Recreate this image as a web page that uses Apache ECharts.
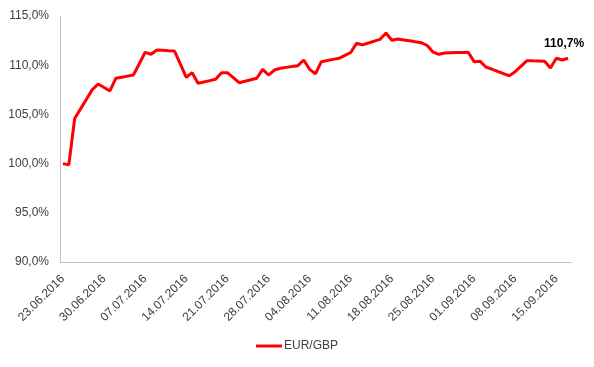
<!DOCTYPE html>
<html>
<head>
<meta charset="utf-8">
<script src="https://cdn.jsdelivr.net/npm/echarts@6/dist/echarts.min.js"></script>
<style>
html,body{margin:0;padding:0;background:#fff;}
#chart{width:594px;height:367px;}
</style>
</head>
<body>
<div id="chart"></div>
<script>
// Calendar days, 23.06.2016 - 17.09.2016
var dates = [
 '23.06.2016','24.06.2016','25.06.2016','26.06.2016','27.06.2016','28.06.2016','29.06.2016',
 '30.06.2016','01.07.2016','02.07.2016','03.07.2016','04.07.2016','05.07.2016','06.07.2016',
 '07.07.2016','08.07.2016','09.07.2016','10.07.2016','11.07.2016','12.07.2016','13.07.2016',
 '14.07.2016','15.07.2016','16.07.2016','17.07.2016','18.07.2016','19.07.2016','20.07.2016',
 '21.07.2016','22.07.2016','23.07.2016','24.07.2016','25.07.2016','26.07.2016','27.07.2016',
 '28.07.2016','29.07.2016','30.07.2016','31.07.2016','01.08.2016','02.08.2016','03.08.2016',
 '04.08.2016','05.08.2016','06.08.2016','07.08.2016','08.08.2016','09.08.2016','10.08.2016',
 '11.08.2016','12.08.2016','13.08.2016','14.08.2016','15.08.2016','16.08.2016','17.08.2016',
 '18.08.2016','19.08.2016','20.08.2016','21.08.2016','22.08.2016','23.08.2016','24.08.2016',
 '25.08.2016','26.08.2016','27.08.2016','28.08.2016','29.08.2016','30.08.2016','31.08.2016',
 '01.09.2016','02.09.2016','03.09.2016','04.09.2016','05.09.2016','06.09.2016','07.09.2016',
 '08.09.2016','09.09.2016','10.09.2016','11.09.2016','12.09.2016','13.09.2016','14.09.2016',
 '15.09.2016','16.09.2016','17.09.2016'
];

// EUR/GBP indexed to 23.06.2016 = 100%
var eurGbp = [
 100.00, 99.87, 104.58, 105.56, 106.54, 107.52, 108.09,
 107.74, 107.38, 108.67, 108.78, 108.89, 109.00, 110.15,
 111.31, 111.11, 111.54, 111.51, 111.47, 111.44, 110.10,
 108.77, 109.24, 108.16, 108.30, 108.43, 108.57, 109.24,
 109.24, 108.73, 108.22, 108.37, 108.52, 108.67, 109.58,
 109.00, 109.51, 109.69, 109.78, 109.86, 109.95, 110.53,
 109.58, 109.13, 110.36, 110.47, 110.59, 110.70, 110.99,
 111.29, 112.23, 112.07, 112.26, 112.44, 112.63, 113.27,
 112.53, 112.66, 112.57, 112.48, 112.38, 112.29, 112.00,
 111.34, 111.11, 111.24, 111.26, 111.28, 111.30, 111.31,
 110.36, 110.41, 109.82, 109.60, 109.38, 109.15, 108.93,
 109.34, 109.90, 110.46, 110.44, 110.43, 110.41, 109.72,
 110.71, 110.53, 110.70
];

var seriesName = 'EUR/GBP';
var yMin = 90, yMax = 115, yStep = 5;

function pct(v, d) { return v.toFixed(d).replace('.', ',') + '%'; }

var lastIdx = eurGbp.length - 1;
var seriesData = eurGbp.map(function (v, i) {
  if (i === lastIdx) {
    return {
      value: v,
      label: {
        show: true,
        position: 'top',
        offset: [-4, -4],
        formatter: function (p) { return pct(p.value, 1); },
        fontFamily: 'Liberation Sans',
        fontSize: 12,
        fontWeight: 'bold',
        color: '#000000'
      }
    };
  }
  return v;
});

var chart = echarts.init(document.getElementById('chart'), null, { renderer: 'canvas' });
chart.setOption({
  animation: false,
  backgroundColor: '#ffffff',
  textStyle: { fontFamily: 'Liberation Sans' },
  grid: { left: 60, right: 23, top: 16, bottom: 105, containLabel: false },
  legend: {
    data: [seriesName],
    bottom: 10,
    left: 'center',
    icon: 'rect',
    itemWidth: 26,
    itemHeight: 3,
    textStyle: { fontFamily: 'Liberation Sans', fontSize: 12, color: '#404040', padding: [0, 0, 0, -3] }
  },
  xAxis: {
    type: 'category',
    data: dates,
    boundaryGap: true,
    axisLine: { lineStyle: { color: '#bfbfbf', width: 1 } },
    axisTick: { show: false },
    axisLabel: {
      interval: 6,
      rotate: 45,
      margin: 15,
      fontSize: 12,
      color: '#404040',
      fontFamily: 'Liberation Sans'
    },
    splitLine: { show: false }
  },
  yAxis: {
    type: 'value',
    min: yMin,
    max: yMax,
    interval: yStep,
    axisLine: { show: true, lineStyle: { color: '#bfbfbf', width: 1 } },
    axisTick: { show: false },
    splitLine: { show: false },
    axisLabel: {
      margin: 11,
      fontSize: 12,
      color: '#404040',
      fontFamily: 'Liberation Sans',
      formatter: function (v) { return pct(v, 1); }
    }
  },
  series: [{
    name: seriesName,
    type: 'line',
    data: seriesData,
    symbol: 'circle',
    symbolSize: 0,
    showSymbol: true,
    lineStyle: { color: '#ff0000', width: 3 },
    itemStyle: { color: '#ff0000' },
    emphasis: { disabled: true }
  }]
});
</script>
</body>
</html>
